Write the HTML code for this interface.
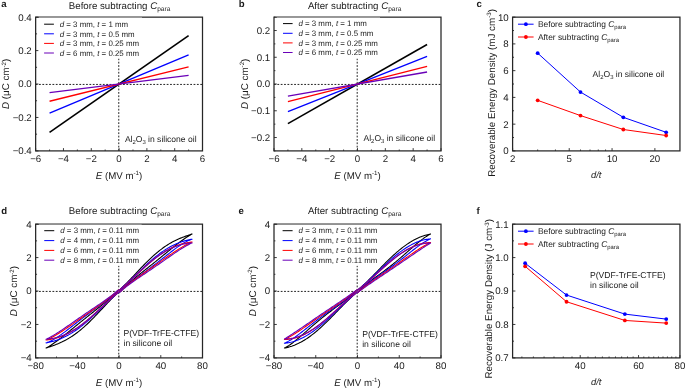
<!DOCTYPE html><html><head><meta charset="utf-8"><style>html,body{margin:0;padding:0;background:#fff;overflow:hidden}svg{display:block}</style></head><body><svg width="685" height="388" viewBox="0 0 685 388" font-family='"Liberation Sans", sans-serif' fill="#1a1a1a" text-rendering="geometricPrecision" style="will-change:transform">
<rect width="685" height="388" fill="#fff"/>
<path d="M35.65 84.43H202.5M118.77 150.9V17.15" stroke="#222" stroke-width="1" stroke-dasharray="1.8 1.56" fill="none"/>
<polyline points="49.55,132.34 188.6,35.71" fill="none" stroke="#000000" stroke-width="1.6" stroke-linejoin="round"/>
<polyline points="49.55,113.12 188.6,54.93" fill="none" stroke="#0000ff" stroke-width="1.3" stroke-linejoin="round"/>
<polyline points="49.55,101.25 188.6,66.8" fill="none" stroke="#ff0000" stroke-width="1.3" stroke-linejoin="round"/>
<polyline points="49.55,92.72 188.6,75.33" fill="none" stroke="#6a00b8" stroke-width="1.3" stroke-linejoin="round"/>
<rect x="35.65" y="17.15" width="166.85" height="133.75" fill="none" stroke="#262626" stroke-width="1.25"/>
<path d="M35.65 150.9v-2.8 M63.46 150.9v-2.8 M91.27 150.9v-2.8 M119.07 150.9v-2.8 M146.88 150.9v-2.8 M174.69 150.9v-2.8 M202.5 150.9v-2.8 M49.55 150.9v-1.4 M77.36 150.9v-1.4 M105.17 150.9v-1.4 M132.98 150.9v-1.4 M160.79 150.9v-1.4 M188.6 150.9v-1.4 M35.65 150.9h2.8 M35.65 117.46h2.8 M35.65 84.03h2.8 M35.65 50.59h2.8 M35.65 17.15h2.8 M35.65 134.18h1.4 M35.65 100.74h1.4 M35.65 67.31h1.4 M35.65 33.87h1.4" stroke="#262626" stroke-width="0.9" fill="none"/>
<text x="35.65" y="161.9" text-anchor="middle" font-size="9.7">−6</text>
<text x="63.46" y="161.9" text-anchor="middle" font-size="9.7">−4</text>
<text x="91.27" y="161.9" text-anchor="middle" font-size="9.7">−2</text>
<text x="119.07" y="161.9" text-anchor="middle" font-size="9.7">0</text>
<text x="146.88" y="161.9" text-anchor="middle" font-size="9.7">2</text>
<text x="174.69" y="161.9" text-anchor="middle" font-size="9.7">4</text>
<text x="202.5" y="161.9" text-anchor="middle" font-size="9.7">6</text>
<text x="31.75" y="154.25" text-anchor="end" font-size="9.7">−0.4</text>
<text x="31.75" y="120.81" text-anchor="end" font-size="9.7">−0.2</text>
<text x="31.75" y="87.38" text-anchor="end" font-size="9.7">0.0</text>
<text x="31.75" y="53.94" text-anchor="end" font-size="9.7">0.2</text>
<text x="31.75" y="20.5" text-anchor="end" font-size="9.7">0.4</text>
<text x="119.08" y="178.9" text-anchor="middle" font-size="9.7"><tspan font-style="italic">E</tspan> (MV m<tspan font-size="6.2" dy="-3.6">-1</tspan><tspan dy="3.6">)</tspan></text>
<text x="68.8" y="8.7" font-size="9.7">Before subtracting <tspan font-style="italic">C</tspan><tspan font-size="6.6" dy="2.2">para</tspan></text>
<text x="1.2" y="7" font-size="9.6" font-weight="bold">a</text>
<path d="M274 84.43H441M357.2 150.9V17.15" stroke="#222" stroke-width="1" stroke-dasharray="1.8 1.56" fill="none"/>
<polyline points="287.92,123.62 427.08,44.44" fill="none" stroke="#000000" stroke-width="1.6" stroke-linejoin="round"/>
<polyline points="287.92,111.58 427.08,56.47" fill="none" stroke="#0000ff" stroke-width="1.3" stroke-linejoin="round"/>
<polyline points="287.92,101.68 427.08,66.37" fill="none" stroke="#ff0000" stroke-width="1.3" stroke-linejoin="round"/>
<polyline points="287.92,96.06 427.08,71.99" fill="none" stroke="#6a00b8" stroke-width="1.3" stroke-linejoin="round"/>
<rect x="274" y="17.15" width="167" height="133.75" fill="none" stroke="#262626" stroke-width="1.25"/>
<path d="M274 150.9v-2.8 M301.83 150.9v-2.8 M329.67 150.9v-2.8 M357.5 150.9v-2.8 M385.33 150.9v-2.8 M413.17 150.9v-2.8 M441 150.9v-2.8 M287.92 150.9v-1.4 M315.75 150.9v-1.4 M343.58 150.9v-1.4 M371.42 150.9v-1.4 M399.25 150.9v-1.4 M427.08 150.9v-1.4 M274 137.53h2.8 M274 110.78h2.8 M274 84.03h2.8 M274 57.27h2.8 M274 30.53h2.8 M274 150.9h1.4 M274 124.15h1.4 M274 97.4h1.4 M274 70.65h1.4 M274 43.9h1.4 M274 17.15h1.4" stroke="#262626" stroke-width="0.9" fill="none"/>
<text x="274" y="161.9" text-anchor="middle" font-size="9.7">−6</text>
<text x="301.83" y="161.9" text-anchor="middle" font-size="9.7">−4</text>
<text x="329.67" y="161.9" text-anchor="middle" font-size="9.7">−2</text>
<text x="357.5" y="161.9" text-anchor="middle" font-size="9.7">0</text>
<text x="385.33" y="161.9" text-anchor="middle" font-size="9.7">2</text>
<text x="413.17" y="161.9" text-anchor="middle" font-size="9.7">4</text>
<text x="441" y="161.9" text-anchor="middle" font-size="9.7">6</text>
<text x="270.1" y="140.88" text-anchor="end" font-size="9.7">−0.2</text>
<text x="270.1" y="114.12" text-anchor="end" font-size="9.7">−0.1</text>
<text x="270.1" y="87.38" text-anchor="end" font-size="9.7">0.0</text>
<text x="270.1" y="60.62" text-anchor="end" font-size="9.7">0.1</text>
<text x="270.1" y="33.88" text-anchor="end" font-size="9.7">0.2</text>
<text x="357.5" y="178.9" text-anchor="middle" font-size="9.7"><tspan font-style="italic">E</tspan> (MV m<tspan font-size="6.2" dy="-3.6">-1</tspan><tspan dy="3.6">)</tspan></text>
<text x="307.9" y="8.7" font-size="9.7">After subtracting <tspan font-style="italic">C</tspan><tspan font-size="6.6" dy="2.2">para</tspan></text>
<text x="238.8" y="7" font-size="9.6" font-weight="bold">b</text>
<polyline points="537.66,53.13 580.49,92.05 623.33,117.33 666.16,132.31" fill="none" stroke="#0000ff" stroke-width="1.0" stroke-linejoin="round"/>
<circle cx="537.66" cy="53.13" r="1.9" fill="#0000ff"/>
<circle cx="580.49" cy="92.05" r="1.9" fill="#0000ff"/>
<circle cx="623.33" cy="117.33" r="1.9" fill="#0000ff"/>
<circle cx="666.16" cy="132.31" r="1.9" fill="#0000ff"/>
<polyline points="537.66,100.34 580.49,115.59 623.33,129.5 666.16,135.52" fill="none" stroke="#ff0000" stroke-width="1.0" stroke-linejoin="round"/>
<circle cx="537.66" cy="100.34" r="1.9" fill="#ff0000"/>
<circle cx="580.49" cy="115.59" r="1.9" fill="#ff0000"/>
<circle cx="623.33" cy="129.5" r="1.9" fill="#ff0000"/>
<circle cx="666.16" cy="135.52" r="1.9" fill="#ff0000"/>
<rect x="512.6" y="17.15" width="167.35" height="133.75" fill="none" stroke="#262626" stroke-width="1.25"/>
<path d="M512.6 150.9v-2.8 M569.22 150.9v-2.8 M612.06 150.9v-2.8 M654.89 150.9v-2.8 M537.66 150.9v-1.4 M555.43 150.9v-1.4 M580.49 150.9v-1.4 M590.02 150.9v-1.4 M598.27 150.9v-1.4 M605.55 150.9v-1.4 M512.6 150.9h2.8 M512.6 124.15h2.8 M512.6 97.4h2.8 M512.6 70.65h2.8 M512.6 43.9h2.8 M512.6 17.15h2.8 M512.6 137.53h1.4 M512.6 110.78h1.4 M512.6 84.03h1.4 M512.6 57.28h1.4 M512.6 30.53h1.4" stroke="#262626" stroke-width="0.9" fill="none"/>
<text x="512.6" y="161.9" text-anchor="middle" font-size="9.7">2</text>
<text x="569.22" y="161.9" text-anchor="middle" font-size="9.7">5</text>
<text x="612.06" y="161.9" text-anchor="middle" font-size="9.7">10</text>
<text x="654.89" y="161.9" text-anchor="middle" font-size="9.7">20</text>
<text x="508.7" y="154.25" text-anchor="end" font-size="9.7">0</text>
<text x="508.7" y="127.5" text-anchor="end" font-size="9.7">2</text>
<text x="508.7" y="100.75" text-anchor="end" font-size="9.7">4</text>
<text x="508.7" y="74" text-anchor="end" font-size="9.7">6</text>
<text x="508.7" y="47.25" text-anchor="end" font-size="9.7">8</text>
<text x="508.7" y="20.5" text-anchor="end" font-size="9.7">10</text>
<text x="596.28" y="178" text-anchor="middle" font-size="9.4" font-style="italic">d/t</text>
<text transform="translate(495 176.8) rotate(-90)" font-size="9.8">Recoverable Energy Density (mJ cm<tspan font-size="6.2" dy="-3.6">-3</tspan><tspan dy="3.6">)</tspan></text>
<text x="476.6" y="7.05" font-size="9.6" font-weight="bold">c</text>
<path d="M518 24.2H533.6" stroke="#0000ff" stroke-width="1"/>
<circle cx="525.9" cy="24.2" r="1.9" fill="#0000ff"/>
<text x="537.9" y="27.2" font-size="8.4">Before subtracting <tspan font-style="italic">C</tspan><tspan font-size="5.9" dy="2">para</tspan></text>
<path d="M518 37H533.6" stroke="#ff0000" stroke-width="1"/>
<circle cx="525.9" cy="37" r="1.9" fill="#ff0000"/>
<text x="537.9" y="40" font-size="8.4">After subtracting <tspan font-style="italic">C</tspan><tspan font-size="5.9" dy="2">para</tspan></text>
<text x="592.6" y="76.8" font-size="8.55">Al<tspan font-size="5.9" dy="2">2</tspan><tspan dy="-2">O</tspan><tspan font-size="5.9" dy="2">3</tspan><tspan dy="-2"> in silicone oil</tspan></text>
<polyline points="525.12,263.27 566.51,295.04 624.85,314.1 666.24,319.11" fill="none" stroke="#0000ff" stroke-width="1.0" stroke-linejoin="round"/>
<circle cx="525.12" cy="263.27" r="1.9" fill="#0000ff"/>
<circle cx="566.51" cy="295.04" r="1.9" fill="#0000ff"/>
<circle cx="624.85" cy="314.1" r="1.9" fill="#0000ff"/>
<circle cx="666.24" cy="319.11" r="1.9" fill="#0000ff"/>
<polyline points="525.12,266.28 566.51,301.73 624.85,320.45 666.24,323.12" fill="none" stroke="#ff0000" stroke-width="1.0" stroke-linejoin="round"/>
<circle cx="525.12" cy="266.28" r="1.9" fill="#ff0000"/>
<circle cx="566.51" cy="301.73" r="1.9" fill="#ff0000"/>
<circle cx="624.85" cy="320.45" r="1.9" fill="#ff0000"/>
<circle cx="666.24" cy="323.12" r="1.9" fill="#ff0000"/>
<rect x="512.6" y="224.15" width="167.35" height="133.75" fill="none" stroke="#262626" stroke-width="1.25"/>
<path d="M580.22 357.9v-2.8 M638.56 357.9v-2.8 M679.95 357.9v-2.8 M521.89 357.9v-1.4 M533.4 357.9v-1.4 M544.06 357.9v-1.4 M553.99 357.9v-1.4 M563.28 357.9v-1.4 M572 357.9v-1.4 M588 357.9v-1.4 M595.38 357.9v-1.4 M602.4 357.9v-1.4 M609.09 357.9v-1.4 M615.49 357.9v-1.4 M621.61 357.9v-1.4 M627.49 357.9v-1.4 M633.13 357.9v-1.4 M643.79 357.9v-1.4 M648.84 357.9v-1.4 M653.72 357.9v-1.4 M658.44 357.9v-1.4 M663 357.9v-1.4 M667.43 357.9v-1.4 M671.73 357.9v-1.4 M675.9 357.9v-1.4 M512.6 357.9h2.8 M512.6 324.46h2.8 M512.6 291.02h2.8 M512.6 257.59h2.8 M512.6 224.15h2.8 M512.6 341.18h1.4 M512.6 307.74h1.4 M512.6 274.31h1.4 M512.6 240.87h1.4" stroke="#262626" stroke-width="0.9" fill="none"/>
<text x="580.22" y="368.9" text-anchor="middle" font-size="9.7">40</text>
<text x="638.56" y="368.9" text-anchor="middle" font-size="9.7">60</text>
<text x="679.95" y="368.9" text-anchor="middle" font-size="9.7">80</text>
<text x="508.7" y="361.25" text-anchor="end" font-size="9.7">0.7</text>
<text x="508.7" y="327.81" text-anchor="end" font-size="9.7">0.8</text>
<text x="508.7" y="294.38" text-anchor="end" font-size="9.7">0.9</text>
<text x="508.7" y="260.94" text-anchor="end" font-size="9.7">1.0</text>
<text x="508.7" y="227.5" text-anchor="end" font-size="9.7">1.1</text>
<text x="596.28" y="385" text-anchor="middle" font-size="9.4" font-style="italic">d/t</text>
<text transform="translate(492.2 378.6) rotate(-90)" font-size="9.8">Recoverable Energy Density (J cm<tspan font-size="6.2" dy="-3.6">-3</tspan><tspan dy="3.6">)</tspan></text>
<text x="476.6" y="214.05" font-size="9.6" font-weight="bold">f</text>
<path d="M518 231.2H533.6" stroke="#0000ff" stroke-width="1"/>
<circle cx="525.9" cy="231.2" r="1.9" fill="#0000ff"/>
<text x="537.9" y="234.2" font-size="8.4">Before subtracting <tspan font-style="italic">C</tspan><tspan font-size="5.9" dy="2">para</tspan></text>
<path d="M518 244H533.6" stroke="#ff0000" stroke-width="1"/>
<circle cx="525.9" cy="244" r="1.9" fill="#ff0000"/>
<text x="537.9" y="247" font-size="8.4">After subtracting <tspan font-style="italic">C</tspan><tspan font-size="5.9" dy="2">para</tspan></text>
<text x="590.0" y="277.9" font-size="8.6">P(VDF-TrFE-CTFE)</text>
<text x="590.0" y="288.0" font-size="8.6">in silicone oil</text>
<text x="124.9" y="142.1" font-size="8.55">Al<tspan font-size="5.9" dy="2">2</tspan><tspan dy="-2">O</tspan><tspan font-size="5.9" dy="2">3</tspan><tspan dy="-2"> in silicone oil</tspan></text>
<text x="363.5" y="141.0" font-size="8.55">Al<tspan font-size="5.9" dy="2">2</tspan><tspan dy="-2">O</tspan><tspan font-size="5.9" dy="2">3</tspan><tspan dy="-2"> in silicone oil</tspan></text>
<rect x="38.8" y="17.6" width="103.2" height="41" fill="#fff"/>
<path d="M44.1 24.2H53.9" stroke="#000000" stroke-width="1.0"/>
<text x="59.7" y="26.95" font-size="7.9"><tspan font-style="italic">d</tspan> = 3 mm, <tspan font-style="italic">t</tspan> = 1 mm</text>
<path d="M44.1 33.8H53.9" stroke="#0000ff" stroke-width="1.0"/>
<text x="59.7" y="36.55" font-size="7.9"><tspan font-style="italic">d</tspan> = 3 mm, <tspan font-style="italic">t</tspan> = 0.5 mm</text>
<path d="M44.1 43.4H53.9" stroke="#ff0000" stroke-width="1.0"/>
<text x="59.7" y="46.15" font-size="7.9"><tspan font-style="italic">d</tspan> = 3 mm, <tspan font-style="italic">t</tspan> = 0.25 mm</text>
<path d="M44.1 53H53.9" stroke="#6a00b8" stroke-width="1.0"/>
<text x="59.7" y="55.75" font-size="7.9"><tspan font-style="italic">d</tspan> = 6 mm, <tspan font-style="italic">t</tspan> = 0.25 mm</text>
<rect x="276.9" y="17.6" width="103.1" height="41" fill="#fff"/>
<path d="M283 23.6H292.6" stroke="#000000" stroke-width="1.0"/>
<text x="298.4" y="26.35" font-size="7.9"><tspan font-style="italic">d</tspan> = 3 mm, <tspan font-style="italic">t</tspan> = 1 mm</text>
<path d="M283 33.3H292.6" stroke="#0000ff" stroke-width="1.0"/>
<text x="298.4" y="36.05" font-size="7.9"><tspan font-style="italic">d</tspan> = 3 mm, <tspan font-style="italic">t</tspan> = 0.5 mm</text>
<path d="M283 42.9H292.6" stroke="#ff0000" stroke-width="1.0"/>
<text x="298.4" y="45.65" font-size="7.9"><tspan font-style="italic">d</tspan> = 3 mm, <tspan font-style="italic">t</tspan> = 0.25 mm</text>
<path d="M283 52.5H292.6" stroke="#6a00b8" stroke-width="1.0"/>
<text x="298.4" y="55.25" font-size="7.9"><tspan font-style="italic">d</tspan> = 6 mm, <tspan font-style="italic">t</tspan> = 0.25 mm</text>
<text transform="translate(9.1 83.9) rotate(-90)" text-anchor="middle" font-size="9.8"><tspan font-style="italic">D</tspan> (μC cm<tspan font-size="6.2" dy="-3.6">-2</tspan><tspan dy="3.6">)</tspan></text>
<text transform="translate(247.6 83.8) rotate(-90)" text-anchor="middle" font-size="9.8"><tspan font-style="italic">D</tspan> (μC cm<tspan font-size="6.2" dy="-3.6">-2</tspan><tspan dy="3.6">)</tspan></text>
<path d="M35.65 291.42H202.5M118.77 357.9V224.15" stroke="#222" stroke-width="1" stroke-dasharray="1.8 1.56" fill="none"/>
<path d="M119.07 292.70 L120.12 291.59 L121.16 290.51 L122.20 289.46 L123.25 288.43 L124.29 287.42 L125.33 286.43 L126.37 285.46 L127.42 284.51 L128.46 283.58 L129.50 282.66 L130.55 281.75 L131.59 280.85 L132.63 279.97 L133.67 279.09 L134.72 278.23 L135.76 277.37 L136.80 276.52 L137.85 275.67 L138.89 274.83 L139.93 274.00 L140.97 273.16 L142.02 272.33 L143.06 271.51 L144.10 270.68 L145.15 269.85 L146.19 269.03 L147.23 268.21 L148.27 267.38 L149.32 266.55 L150.36 265.73 L151.40 264.90 L152.44 264.07 L153.49 263.23 L154.53 262.40 L155.57 261.56 L156.62 260.72 L157.66 259.88 L158.70 259.04 L159.74 258.20 L160.79 257.35 L161.83 256.50 L162.87 255.65 L163.92 254.80 L164.96 253.95 L166.00 253.10 L167.04 252.25 L168.09 251.40 L169.13 250.55 L170.17 249.70 L171.22 248.86 L172.26 248.02 L173.30 247.18 L174.34 246.35 L175.39 245.53 L176.43 244.71 L177.47 243.90 L178.52 243.10 L179.56 242.30 L180.60 241.52 L181.64 240.75 L182.69 240.00 L183.73 239.26 L184.77 238.53 L185.81 237.82 L186.86 237.13 L187.90 236.46 L188.94 235.81 L189.99 235.19 L191.03 234.59 L192.07 234.01 L191.03 234.35 L189.99 234.70 L188.94 235.05 L187.90 235.40 L186.86 235.76 L185.81 236.13 L184.77 236.50 L183.73 236.89 L182.69 237.29 L181.64 237.70 L180.60 238.13 L179.56 238.56 L178.52 239.02 L177.47 239.49 L176.43 239.97 L175.39 240.48 L174.34 241.00 L173.30 241.54 L172.26 242.10 L171.22 242.68 L170.17 243.28 L169.13 243.90 L168.09 244.54 L167.04 245.20 L166.00 245.88 L164.96 246.58 L163.92 247.31 L162.87 248.05 L161.83 248.82 L160.79 249.60 L159.74 250.41 L158.70 251.24 L157.66 252.09 L156.62 252.96 L155.57 253.85 L154.53 254.75 L153.49 255.68 L152.44 256.62 L151.40 257.58 L150.36 258.56 L149.32 259.56 L148.27 260.57 L147.23 261.59 L146.19 262.63 L145.15 263.68 L144.10 264.75 L143.06 265.82 L142.02 266.90 L140.97 267.99 L139.93 269.09 L138.89 270.20 L137.85 271.31 L136.80 272.42 L135.76 273.53 L134.72 274.65 L133.67 275.76 L132.63 276.87 L131.59 277.97 L130.55 279.07 L129.50 280.16 L128.46 281.24 L127.42 282.31 L126.37 283.37 L125.33 284.41 L124.29 285.43 L123.25 286.43 L122.20 287.41 L121.16 288.36 L120.12 289.29 L119.07 290.19 L118.03 290.46 L116.99 291.54 L115.95 292.59 L114.90 293.62 L113.86 294.63 L112.82 295.62 L111.78 296.59 L110.73 297.54 L109.69 298.47 L108.65 299.39 L107.60 300.30 L106.56 301.20 L105.52 302.08 L104.48 302.96 L103.43 303.82 L102.39 304.68 L101.35 305.53 L100.30 306.38 L99.26 307.22 L98.22 308.05 L97.18 308.89 L96.13 309.72 L95.09 310.54 L94.05 311.37 L93.00 312.20 L91.96 313.02 L90.92 313.84 L89.88 314.67 L88.83 315.50 L87.79 316.32 L86.75 317.15 L85.70 317.98 L84.66 318.82 L83.62 319.65 L82.58 320.49 L81.53 321.33 L80.49 322.17 L79.45 323.01 L78.41 323.85 L77.36 324.70 L76.32 325.55 L75.28 326.40 L74.23 327.25 L73.19 328.10 L72.15 328.95 L71.11 329.80 L70.06 330.65 L69.02 331.50 L67.98 332.35 L66.93 333.19 L65.89 334.03 L64.85 334.87 L63.81 335.70 L62.76 336.52 L61.72 337.34 L60.68 338.15 L59.63 338.95 L58.59 339.75 L57.55 340.53 L56.51 341.30 L55.46 342.05 L54.42 342.79 L53.38 343.52 L52.33 344.23 L51.29 344.92 L50.25 345.59 L49.21 346.24 L48.16 346.86 L47.12 347.46 L46.08 348.04 L47.12 347.70 L48.16 347.35 L49.21 347.00 L50.25 346.65 L51.29 346.29 L52.33 345.92 L53.38 345.55 L54.42 345.16 L55.46 344.76 L56.51 344.35 L57.55 343.92 L58.59 343.49 L59.63 343.03 L60.68 342.56 L61.72 342.08 L62.76 341.57 L63.81 341.05 L64.85 340.51 L65.89 339.95 L66.93 339.37 L67.98 338.77 L69.02 338.15 L70.06 337.51 L71.11 336.85 L72.15 336.17 L73.19 335.47 L74.23 334.74 L75.28 334.00 L76.32 333.23 L77.36 332.45 L78.41 331.64 L79.45 330.81 L80.49 329.96 L81.53 329.09 L82.58 328.20 L83.62 327.30 L84.66 326.37 L85.70 325.43 L86.75 324.47 L87.79 323.49 L88.83 322.49 L89.88 321.48 L90.92 320.46 L91.96 319.42 L93.00 318.37 L94.05 317.30 L95.09 316.23 L96.13 315.15 L97.18 314.06 L98.22 312.96 L99.26 311.85 L100.30 310.74 L101.35 309.63 L102.39 308.52 L103.43 307.40 L104.48 306.29 L105.52 305.18 L106.56 304.08 L107.60 302.98 L108.65 301.89 L109.69 300.81 L110.73 299.74 L111.78 298.68 L112.82 297.64 L113.86 296.62 L114.90 295.62 L115.95 294.64 L116.99 293.69 L118.03 292.76 L119.07 291.86" fill="none" stroke="#000000" stroke-width="1.1" stroke-linejoin="round"/>
<path d="M119.07 292.70 L120.12 291.63 L121.16 290.59 L122.20 289.59 L123.25 288.61 L124.29 287.66 L125.33 286.74 L126.37 285.84 L127.42 284.96 L128.46 284.10 L129.50 283.26 L130.55 282.43 L131.59 281.62 L132.63 280.81 L133.67 280.02 L134.72 279.24 L135.76 278.47 L136.80 277.70 L137.85 276.94 L138.89 276.18 L139.93 275.42 L140.97 274.67 L142.02 273.92 L143.06 273.16 L144.10 272.41 L145.15 271.66 L146.19 270.90 L147.23 270.14 L148.27 269.38 L149.32 268.61 L150.36 267.84 L151.40 267.07 L152.44 266.29 L153.49 265.51 L154.53 264.72 L155.57 263.93 L156.62 263.13 L157.66 262.33 L158.70 261.53 L159.74 260.72 L160.79 259.91 L161.83 259.10 L162.87 258.29 L163.92 257.47 L164.96 256.65 L166.00 255.84 L167.04 255.02 L168.09 254.20 L169.13 253.39 L170.17 252.58 L171.22 251.78 L172.26 250.98 L173.30 250.20 L174.34 249.41 L175.39 248.64 L176.43 247.89 L177.47 247.14 L178.52 246.41 L179.56 245.70 L180.60 245.00 L181.64 244.33 L182.69 243.68 L183.73 243.05 L184.77 242.45 L185.81 241.88 L186.86 241.34 L187.90 240.84 L188.94 240.37 L189.99 239.94 L191.03 239.54 L192.07 239.20 L191.03 239.38 L189.99 239.58 L188.94 239.79 L187.90 240.03 L186.86 240.27 L185.81 240.54 L184.77 240.82 L183.73 241.13 L182.69 241.45 L181.64 241.79 L180.60 242.15 L179.56 242.53 L178.52 242.92 L177.47 243.34 L176.43 243.78 L175.39 244.24 L174.34 244.72 L173.30 245.22 L172.26 245.74 L171.22 246.28 L170.17 246.85 L169.13 247.43 L168.09 248.03 L167.04 248.65 L166.00 249.30 L164.96 249.96 L163.92 250.64 L162.87 251.35 L161.83 252.07 L160.79 252.81 L159.74 253.57 L158.70 254.34 L157.66 255.14 L156.62 255.95 L155.57 256.78 L154.53 257.63 L153.49 258.49 L152.44 259.36 L151.40 260.25 L150.36 261.16 L149.32 262.08 L148.27 263.01 L147.23 263.95 L146.19 264.90 L145.15 265.86 L144.10 266.84 L143.06 267.82 L142.02 268.80 L140.97 269.80 L139.93 270.80 L138.89 271.80 L137.85 272.81 L136.80 273.82 L135.76 274.84 L134.72 275.85 L133.67 276.86 L132.63 277.87 L131.59 278.88 L130.55 279.88 L129.50 280.87 L128.46 281.86 L127.42 282.84 L126.37 283.81 L125.33 284.77 L124.29 285.71 L123.25 286.64 L122.20 287.56 L121.16 288.45 L120.12 289.33 L119.07 290.19 L118.03 290.42 L116.99 291.46 L115.95 292.46 L114.90 293.44 L113.86 294.39 L112.82 295.31 L111.78 296.21 L110.73 297.09 L109.69 297.95 L108.65 298.79 L107.60 299.62 L106.56 300.43 L105.52 301.24 L104.48 302.03 L103.43 302.81 L102.39 303.58 L101.35 304.35 L100.30 305.11 L99.26 305.87 L98.22 306.63 L97.18 307.38 L96.13 308.13 L95.09 308.89 L94.05 309.64 L93.00 310.39 L91.96 311.15 L90.92 311.91 L89.88 312.67 L88.83 313.44 L87.79 314.21 L86.75 314.98 L85.70 315.76 L84.66 316.54 L83.62 317.33 L82.58 318.12 L81.53 318.92 L80.49 319.72 L79.45 320.52 L78.41 321.33 L77.36 322.14 L76.32 322.95 L75.28 323.76 L74.23 324.58 L73.19 325.40 L72.15 326.21 L71.11 327.03 L70.06 327.85 L69.02 328.66 L67.98 329.47 L66.93 330.27 L65.89 331.07 L64.85 331.85 L63.81 332.64 L62.76 333.41 L61.72 334.16 L60.68 334.91 L59.63 335.64 L58.59 336.35 L57.55 337.05 L56.51 337.72 L55.46 338.37 L54.42 339.00 L53.38 339.60 L52.33 340.17 L51.29 340.71 L50.25 341.21 L49.21 341.68 L48.16 342.11 L47.12 342.51 L46.08 342.85 L47.12 342.67 L48.16 342.47 L49.21 342.26 L50.25 342.02 L51.29 341.78 L52.33 341.51 L53.38 341.23 L54.42 340.92 L55.46 340.60 L56.51 340.26 L57.55 339.90 L58.59 339.52 L59.63 339.13 L60.68 338.71 L61.72 338.27 L62.76 337.81 L63.81 337.33 L64.85 336.83 L65.89 336.31 L66.93 335.77 L67.98 335.20 L69.02 334.62 L70.06 334.02 L71.11 333.40 L72.15 332.75 L73.19 332.09 L74.23 331.41 L75.28 330.70 L76.32 329.98 L77.36 329.24 L78.41 328.48 L79.45 327.71 L80.49 326.91 L81.53 326.10 L82.58 325.27 L83.62 324.42 L84.66 323.56 L85.70 322.69 L86.75 321.80 L87.79 320.89 L88.83 319.97 L89.88 319.04 L90.92 318.10 L91.96 317.15 L93.00 316.19 L94.05 315.21 L95.09 314.23 L96.13 313.25 L97.18 312.25 L98.22 311.25 L99.26 310.25 L100.30 309.24 L101.35 308.23 L102.39 307.21 L103.43 306.20 L104.48 305.19 L105.52 304.18 L106.56 303.17 L107.60 302.17 L108.65 301.18 L109.69 300.19 L110.73 299.21 L111.78 298.24 L112.82 297.28 L113.86 296.34 L114.90 295.41 L115.95 294.49 L116.99 293.60 L118.03 292.72 L119.07 291.86" fill="none" stroke="#0000ff" stroke-width="1.1" stroke-linejoin="round"/>
<path d="M119.07 292.70 L120.12 291.70 L121.16 290.73 L122.20 289.79 L123.25 288.86 L124.29 287.95 L125.33 287.07 L126.37 286.20 L127.42 285.34 L128.46 284.50 L129.50 283.68 L130.55 282.87 L131.59 282.06 L132.63 281.27 L133.67 280.49 L134.72 279.72 L135.76 278.96 L136.80 278.20 L137.85 277.45 L138.89 276.70 L139.93 275.96 L140.97 275.22 L142.02 274.48 L143.06 273.75 L144.10 273.02 L145.15 272.29 L146.19 271.57 L147.23 270.84 L148.27 270.11 L149.32 269.39 L150.36 268.66 L151.40 267.94 L152.44 267.21 L153.49 266.48 L154.53 265.75 L155.57 265.02 L156.62 264.29 L157.66 263.56 L158.70 262.83 L159.74 262.10 L160.79 261.37 L161.83 260.64 L162.87 259.91 L163.92 259.17 L164.96 258.44 L166.00 257.72 L167.04 256.99 L168.09 256.26 L169.13 255.54 L170.17 254.82 L171.22 254.11 L172.26 253.40 L173.30 252.69 L174.34 251.99 L175.39 251.30 L176.43 250.62 L177.47 249.95 L178.52 249.28 L179.56 248.63 L180.60 247.98 L181.64 247.36 L182.69 246.74 L183.73 246.14 L184.77 245.56 L185.81 244.99 L186.86 244.44 L187.90 243.91 L188.94 243.41 L189.99 242.93 L191.03 242.47 L192.07 242.04 L191.03 242.16 L189.99 242.31 L188.94 242.46 L187.90 242.64 L186.86 242.83 L185.81 243.04 L184.77 243.27 L183.73 243.51 L182.69 243.78 L181.64 244.06 L180.60 244.37 L179.56 244.69 L178.52 245.04 L177.47 245.41 L176.43 245.79 L175.39 246.20 L174.34 246.63 L173.30 247.08 L172.26 247.56 L171.22 248.05 L170.17 248.57 L169.13 249.10 L168.09 249.66 L167.04 250.24 L166.00 250.84 L164.96 251.46 L163.92 252.10 L162.87 252.77 L161.83 253.45 L160.79 254.15 L159.74 254.87 L158.70 255.61 L157.66 256.37 L156.62 257.15 L155.57 257.94 L154.53 258.75 L153.49 259.58 L152.44 260.43 L151.40 261.28 L150.36 262.16 L149.32 263.04 L148.27 263.94 L147.23 264.86 L146.19 265.78 L145.15 266.71 L144.10 267.66 L143.06 268.61 L142.02 269.57 L140.97 270.53 L139.93 271.50 L138.89 272.48 L137.85 273.46 L136.80 274.44 L135.76 275.42 L134.72 276.41 L133.67 277.39 L132.63 278.37 L131.59 279.34 L130.55 280.31 L129.50 281.27 L128.46 282.23 L127.42 283.17 L126.37 284.11 L125.33 285.03 L124.29 285.93 L123.25 286.82 L122.20 287.69 L121.16 288.55 L120.12 289.38 L119.07 290.19 L118.03 290.35 L116.99 291.32 L115.95 292.26 L114.90 293.19 L113.86 294.10 L112.82 294.98 L111.78 295.85 L110.73 296.71 L109.69 297.55 L108.65 298.37 L107.60 299.18 L106.56 299.99 L105.52 300.78 L104.48 301.56 L103.43 302.33 L102.39 303.09 L101.35 303.85 L100.30 304.60 L99.26 305.35 L98.22 306.09 L97.18 306.83 L96.13 307.57 L95.09 308.30 L94.05 309.03 L93.00 309.76 L91.96 310.48 L90.92 311.21 L89.88 311.94 L88.83 312.66 L87.79 313.39 L86.75 314.11 L85.70 314.84 L84.66 315.57 L83.62 316.30 L82.58 317.03 L81.53 317.76 L80.49 318.49 L79.45 319.22 L78.41 319.95 L77.36 320.68 L76.32 321.41 L75.28 322.14 L74.23 322.88 L73.19 323.61 L72.15 324.33 L71.11 325.06 L70.06 325.79 L69.02 326.51 L67.98 327.23 L66.93 327.94 L65.89 328.65 L64.85 329.36 L63.81 330.06 L62.76 330.75 L61.72 331.43 L60.68 332.10 L59.63 332.77 L58.59 333.42 L57.55 334.07 L56.51 334.69 L55.46 335.31 L54.42 335.91 L53.38 336.49 L52.33 337.06 L51.29 337.61 L50.25 338.14 L49.21 338.64 L48.16 339.12 L47.12 339.58 L46.08 340.01 L47.12 339.89 L48.16 339.74 L49.21 339.59 L50.25 339.41 L51.29 339.22 L52.33 339.01 L53.38 338.78 L54.42 338.54 L55.46 338.27 L56.51 337.99 L57.55 337.68 L58.59 337.36 L59.63 337.01 L60.68 336.64 L61.72 336.26 L62.76 335.85 L63.81 335.42 L64.85 334.97 L65.89 334.49 L66.93 334.00 L67.98 333.48 L69.02 332.95 L70.06 332.39 L71.11 331.81 L72.15 331.21 L73.19 330.59 L74.23 329.95 L75.28 329.28 L76.32 328.60 L77.36 327.90 L78.41 327.18 L79.45 326.44 L80.49 325.68 L81.53 324.90 L82.58 324.11 L83.62 323.30 L84.66 322.47 L85.70 321.62 L86.75 320.77 L87.79 319.89 L88.83 319.01 L89.88 318.11 L90.92 317.19 L91.96 316.27 L93.00 315.34 L94.05 314.39 L95.09 313.44 L96.13 312.48 L97.18 311.52 L98.22 310.55 L99.26 309.57 L100.30 308.59 L101.35 307.61 L102.39 306.63 L103.43 305.64 L104.48 304.66 L105.52 303.68 L106.56 302.71 L107.60 301.74 L108.65 300.78 L109.69 299.82 L110.73 298.88 L111.78 297.94 L112.82 297.02 L113.86 296.12 L114.90 295.23 L115.95 294.36 L116.99 293.50 L118.03 292.67 L119.07 291.86" fill="none" stroke="#ff0000" stroke-width="1.1" stroke-linejoin="round"/>
<path d="M119.07 292.70 L120.12 291.78 L121.16 290.88 L122.20 290.01 L123.25 289.15 L124.29 288.31 L125.33 287.48 L126.37 286.67 L127.42 285.87 L128.46 285.09 L129.50 284.32 L130.55 283.55 L131.59 282.80 L132.63 282.05 L133.67 281.32 L134.72 280.59 L135.76 279.86 L136.80 279.14 L137.85 278.42 L138.89 277.71 L139.93 277.00 L140.97 276.30 L142.02 275.59 L143.06 274.89 L144.10 274.18 L145.15 273.48 L146.19 272.78 L147.23 272.07 L148.27 271.37 L149.32 270.66 L150.36 269.96 L151.40 269.25 L152.44 268.54 L153.49 267.82 L154.53 267.11 L155.57 266.39 L156.62 265.67 L157.66 264.95 L158.70 264.23 L159.74 263.51 L160.79 262.78 L161.83 262.06 L162.87 261.33 L163.92 260.60 L164.96 259.87 L166.00 259.14 L167.04 258.41 L168.09 257.68 L169.13 256.96 L170.17 256.23 L171.22 255.51 L172.26 254.79 L173.30 254.08 L174.34 253.37 L175.39 252.66 L176.43 251.96 L177.47 251.27 L178.52 250.59 L179.56 249.91 L180.60 249.24 L181.64 248.59 L182.69 247.95 L183.73 247.31 L184.77 246.70 L185.81 246.10 L186.86 245.51 L187.90 244.94 L188.94 244.39 L189.99 243.87 L191.03 243.36 L192.07 242.88 L191.03 242.96 L189.99 243.06 L188.94 243.17 L187.90 243.31 L186.86 243.47 L185.81 243.65 L184.77 243.84 L183.73 244.06 L182.69 244.30 L181.64 244.56 L180.60 244.84 L179.56 245.14 L178.52 245.47 L177.47 245.81 L176.43 246.18 L175.39 246.57 L174.34 246.99 L173.30 247.42 L172.26 247.88 L171.22 248.36 L170.17 248.87 L169.13 249.39 L168.09 249.94 L167.04 250.51 L166.00 251.10 L164.96 251.71 L163.92 252.35 L162.87 253.00 L161.83 253.67 L160.79 254.37 L159.74 255.08 L158.70 255.82 L157.66 256.57 L156.62 257.34 L155.57 258.13 L154.53 258.94 L153.49 259.76 L152.44 260.60 L151.40 261.45 L150.36 262.32 L149.32 263.20 L148.27 264.09 L147.23 265.00 L146.19 265.92 L145.15 266.85 L144.10 267.79 L143.06 268.73 L142.02 269.69 L140.97 270.65 L139.93 271.61 L138.89 272.58 L137.85 273.56 L136.80 274.53 L135.76 275.51 L134.72 276.49 L133.67 277.46 L132.63 278.44 L131.59 279.41 L130.55 280.37 L129.50 281.33 L128.46 282.27 L127.42 283.21 L126.37 284.14 L125.33 285.05 L124.29 285.96 L123.25 286.84 L122.20 287.71 L121.16 288.56 L120.12 289.38 L119.07 290.19 L118.03 290.27 L116.99 291.17 L115.95 292.04 L114.90 292.90 L113.86 293.74 L112.82 294.57 L111.78 295.38 L110.73 296.18 L109.69 296.96 L108.65 297.73 L107.60 298.50 L106.56 299.25 L105.52 300.00 L104.48 300.73 L103.43 301.46 L102.39 302.19 L101.35 302.91 L100.30 303.63 L99.26 304.34 L98.22 305.05 L97.18 305.75 L96.13 306.46 L95.09 307.16 L94.05 307.87 L93.00 308.57 L91.96 309.27 L90.92 309.98 L89.88 310.68 L88.83 311.39 L87.79 312.09 L86.75 312.80 L85.70 313.51 L84.66 314.23 L83.62 314.94 L82.58 315.66 L81.53 316.38 L80.49 317.10 L79.45 317.82 L78.41 318.54 L77.36 319.27 L76.32 319.99 L75.28 320.72 L74.23 321.45 L73.19 322.18 L72.15 322.91 L71.11 323.64 L70.06 324.37 L69.02 325.09 L67.98 325.82 L66.93 326.54 L65.89 327.26 L64.85 327.97 L63.81 328.68 L62.76 329.39 L61.72 330.09 L60.68 330.78 L59.63 331.46 L58.59 332.14 L57.55 332.81 L56.51 333.46 L55.46 334.10 L54.42 334.74 L53.38 335.35 L52.33 335.95 L51.29 336.54 L50.25 337.11 L49.21 337.66 L48.16 338.18 L47.12 338.69 L46.08 339.17 L47.12 339.09 L48.16 338.99 L49.21 338.88 L50.25 338.74 L51.29 338.58 L52.33 338.40 L53.38 338.21 L54.42 337.99 L55.46 337.75 L56.51 337.49 L57.55 337.21 L58.59 336.91 L59.63 336.58 L60.68 336.24 L61.72 335.87 L62.76 335.48 L63.81 335.06 L64.85 334.63 L65.89 334.17 L66.93 333.69 L67.98 333.18 L69.02 332.66 L70.06 332.11 L71.11 331.54 L72.15 330.95 L73.19 330.34 L74.23 329.70 L75.28 329.05 L76.32 328.38 L77.36 327.68 L78.41 326.97 L79.45 326.23 L80.49 325.48 L81.53 324.71 L82.58 323.92 L83.62 323.11 L84.66 322.29 L85.70 321.45 L86.75 320.60 L87.79 319.73 L88.83 318.85 L89.88 317.96 L90.92 317.05 L91.96 316.13 L93.00 315.20 L94.05 314.26 L95.09 313.32 L96.13 312.36 L97.18 311.40 L98.22 310.44 L99.26 309.47 L100.30 308.49 L101.35 307.52 L102.39 306.54 L103.43 305.56 L104.48 304.59 L105.52 303.61 L106.56 302.64 L107.60 301.68 L108.65 300.72 L109.69 299.78 L110.73 298.84 L111.78 297.91 L112.82 297.00 L113.86 296.09 L114.90 295.21 L115.95 294.34 L116.99 293.49 L118.03 292.67 L119.07 291.86" fill="none" stroke="#6a00b8" stroke-width="1.1" stroke-linejoin="round"/>
<rect x="35.65" y="224.15" width="166.85" height="133.75" fill="none" stroke="#262626" stroke-width="1.25"/>
<path d="M35.65 357.9v-2.8 M77.36 357.9v-2.8 M119.07 357.9v-2.8 M160.79 357.9v-2.8 M202.5 357.9v-2.8 M56.51 357.9v-1.4 M98.22 357.9v-1.4 M139.93 357.9v-1.4 M181.64 357.9v-1.4 M35.65 357.9h2.8 M35.65 324.46h2.8 M35.65 291.02h2.8 M35.65 257.59h2.8 M35.65 224.15h2.8 M35.65 341.18h1.4 M35.65 307.74h1.4 M35.65 274.31h1.4 M35.65 240.87h1.4" stroke="#262626" stroke-width="0.9" fill="none"/>
<text x="35.65" y="368.9" text-anchor="middle" font-size="9.7">−80</text>
<text x="77.36" y="368.9" text-anchor="middle" font-size="9.7">−40</text>
<text x="119.07" y="368.9" text-anchor="middle" font-size="9.7">0</text>
<text x="160.79" y="368.9" text-anchor="middle" font-size="9.7">40</text>
<text x="202.5" y="368.9" text-anchor="middle" font-size="9.7">80</text>
<text x="31.75" y="361.25" text-anchor="end" font-size="9.7">−4</text>
<text x="31.75" y="327.81" text-anchor="end" font-size="9.7">−2</text>
<text x="31.75" y="294.38" text-anchor="end" font-size="9.7">0</text>
<text x="31.75" y="260.94" text-anchor="end" font-size="9.7">2</text>
<text x="31.75" y="227.5" text-anchor="end" font-size="9.7">4</text>
<text x="119.08" y="385.9" text-anchor="middle" font-size="9.7"><tspan font-style="italic">E</tspan> (MV m<tspan font-size="6.2" dy="-3.6">-1</tspan><tspan dy="3.6">)</tspan></text>
<text x="68.8" y="213.7" font-size="9.7">Before subtracting <tspan font-style="italic">C</tspan><tspan font-size="6.6" dy="2.2">para</tspan></text>
<text x="1.2" y="213.8" font-size="9.6" font-weight="bold">d</text>
<rect x="38.95" y="224.65" width="102.7" height="41.15" fill="#fff"/>
<path d="M44.25 230.7H54.25" stroke="#000000" stroke-width="1.0"/>
<text x="60.25" y="233.45" font-size="7.9"><tspan font-style="italic">d</tspan> = 3 mm, <tspan font-style="italic">t</tspan> = 0.11 mm</text>
<path d="M44.25 240.6H54.25" stroke="#0000ff" stroke-width="1.0"/>
<text x="60.25" y="243.35" font-size="7.9"><tspan font-style="italic">d</tspan> = 4 mm, <tspan font-style="italic">t</tspan> = 0.11 mm</text>
<path d="M44.25 250.4H54.25" stroke="#ff0000" stroke-width="1.0"/>
<text x="60.25" y="253.15" font-size="7.9"><tspan font-style="italic">d</tspan> = 6 mm, <tspan font-style="italic">t</tspan> = 0.11 mm</text>
<path d="M44.25 260.2H54.25" stroke="#6a00b8" stroke-width="1.0"/>
<text x="60.25" y="262.95" font-size="7.9"><tspan font-style="italic">d</tspan> = 8 mm, <tspan font-style="italic">t</tspan> = 0.11 mm</text>
<text x="123.5" y="336" font-size="8.6">P(VDF-TrFE-CTFE)</text>
<text x="123.5" y="345.7" font-size="8.6">in silicone oil</text>
<path d="M274 291.42H441M357.2 357.9V224.15" stroke="#222" stroke-width="1" stroke-dasharray="1.8 1.56" fill="none"/>
<path d="M357.50 292.70 L358.54 291.59 L359.59 290.52 L360.63 289.49 L361.68 288.49 L362.72 287.52 L363.76 286.58 L364.81 285.67 L365.85 284.78 L366.89 283.91 L367.94 283.06 L368.98 282.22 L370.02 281.41 L371.07 280.60 L372.11 279.80 L373.16 279.02 L374.20 278.24 L375.24 277.47 L376.29 276.70 L377.33 275.94 L378.38 275.17 L379.42 274.41 L380.46 273.65 L381.51 272.88 L382.55 272.12 L383.59 271.35 L384.64 270.57 L385.68 269.79 L386.73 269.00 L387.77 268.21 L388.81 267.41 L389.86 266.60 L390.90 265.78 L391.94 264.96 L392.99 264.12 L394.03 263.28 L395.07 262.43 L396.12 261.57 L397.16 260.70 L398.21 259.83 L399.25 258.95 L400.29 258.06 L401.34 257.16 L402.38 256.26 L403.43 255.35 L404.47 254.44 L405.51 253.52 L406.56 252.60 L407.60 251.68 L408.64 250.76 L409.69 249.84 L410.73 248.92 L411.77 248.00 L412.82 247.09 L413.86 246.18 L414.91 245.28 L415.95 244.39 L416.99 243.51 L418.04 242.64 L419.08 241.79 L420.12 240.96 L421.17 240.14 L422.21 239.34 L423.26 238.57 L424.30 237.82 L425.34 237.10 L426.39 236.41 L427.43 235.76 L428.48 235.14 L429.52 234.55 L430.56 234.01 L429.52 234.21 L428.48 234.44 L427.43 234.68 L426.39 234.95 L425.34 235.24 L424.30 235.56 L423.26 235.90 L422.21 236.27 L421.17 236.66 L420.12 237.07 L419.08 237.51 L418.04 237.97 L416.99 238.45 L415.95 238.96 L414.91 239.50 L413.86 240.05 L412.82 240.63 L411.77 241.24 L410.73 241.86 L409.69 242.51 L408.64 243.18 L407.60 243.88 L406.56 244.59 L405.51 245.33 L404.47 246.09 L403.43 246.87 L402.38 247.67 L401.34 248.49 L400.29 249.33 L399.25 250.18 L398.21 251.06 L397.16 251.95 L396.12 252.86 L395.07 253.79 L394.03 254.73 L392.99 255.69 L391.94 256.66 L390.90 257.64 L389.86 258.64 L388.81 259.65 L387.77 260.67 L386.73 261.69 L385.68 262.73 L384.64 263.78 L383.59 264.83 L382.55 265.89 L381.51 266.96 L380.46 268.03 L379.42 269.10 L378.38 270.18 L377.33 271.26 L376.29 272.33 L375.24 273.41 L374.20 274.48 L373.16 275.55 L372.11 276.61 L371.07 277.67 L370.02 278.72 L368.98 279.76 L367.94 280.79 L366.89 281.80 L365.85 282.81 L364.81 283.80 L363.76 284.77 L362.72 285.73 L361.68 286.67 L360.63 287.58 L359.59 288.48 L358.54 289.35 L357.50 290.19 L356.46 290.46 L355.41 291.53 L354.37 292.56 L353.32 293.56 L352.28 294.53 L351.24 295.47 L350.19 296.38 L349.15 297.27 L348.11 298.14 L347.06 298.99 L346.02 299.83 L344.98 300.64 L343.93 301.45 L342.89 302.25 L341.84 303.03 L340.80 303.81 L339.76 304.58 L338.71 305.35 L337.67 306.11 L336.62 306.88 L335.58 307.64 L334.54 308.40 L333.49 309.17 L332.45 309.93 L331.41 310.70 L330.36 311.48 L329.32 312.26 L328.27 313.05 L327.23 313.84 L326.19 314.64 L325.14 315.45 L324.10 316.27 L323.06 317.09 L322.01 317.93 L320.97 318.77 L319.93 319.62 L318.88 320.48 L317.84 321.35 L316.79 322.22 L315.75 323.10 L314.71 323.99 L313.66 324.89 L312.62 325.79 L311.57 326.70 L310.53 327.61 L309.49 328.53 L308.44 329.45 L307.40 330.37 L306.36 331.29 L305.31 332.21 L304.27 333.13 L303.23 334.05 L302.18 334.96 L301.14 335.87 L300.09 336.77 L299.05 337.66 L298.01 338.54 L296.96 339.41 L295.92 340.26 L294.88 341.09 L293.83 341.91 L292.79 342.71 L291.74 343.48 L290.70 344.23 L289.66 344.95 L288.61 345.64 L287.57 346.29 L286.52 346.91 L285.48 347.50 L284.44 348.04 L285.48 347.84 L286.52 347.61 L287.57 347.37 L288.61 347.10 L289.66 346.81 L290.70 346.49 L291.74 346.15 L292.79 345.78 L293.83 345.39 L294.88 344.98 L295.92 344.54 L296.96 344.08 L298.01 343.60 L299.05 343.09 L300.09 342.55 L301.14 342.00 L302.18 341.42 L303.23 340.81 L304.27 340.19 L305.31 339.54 L306.36 338.87 L307.40 338.17 L308.44 337.46 L309.49 336.72 L310.53 335.96 L311.57 335.18 L312.62 334.38 L313.66 333.56 L314.71 332.72 L315.75 331.87 L316.79 330.99 L317.84 330.10 L318.88 329.19 L319.93 328.26 L320.97 327.32 L322.01 326.36 L323.06 325.39 L324.10 324.41 L325.14 323.41 L326.19 322.40 L327.23 321.38 L328.27 320.36 L329.32 319.32 L330.36 318.27 L331.41 317.22 L332.45 316.16 L333.49 315.09 L334.54 314.02 L335.58 312.95 L336.62 311.87 L337.67 310.79 L338.71 309.72 L339.76 308.64 L340.80 307.57 L341.84 306.50 L342.89 305.44 L343.93 304.38 L344.98 303.33 L346.02 302.29 L347.06 301.26 L348.11 300.25 L349.15 299.24 L350.19 298.25 L351.24 297.28 L352.28 296.32 L353.32 295.38 L354.37 294.47 L355.41 293.57 L356.46 292.70 L357.50 291.86" fill="none" stroke="#000000" stroke-width="1.1" stroke-linejoin="round"/>
<path d="M357.50 292.70 L358.54 291.65 L359.59 290.63 L360.63 289.65 L361.68 288.70 L362.72 287.77 L363.76 286.88 L364.81 286.00 L365.85 285.15 L366.89 284.32 L367.94 283.51 L368.98 282.72 L370.02 281.94 L371.07 281.17 L372.11 280.41 L373.16 279.66 L374.20 278.92 L375.24 278.19 L376.29 277.46 L377.33 276.74 L378.38 276.02 L379.42 275.30 L380.46 274.58 L381.51 273.86 L382.55 273.14 L383.59 272.42 L384.64 271.69 L385.68 270.96 L386.73 270.23 L387.77 269.49 L388.81 268.74 L389.86 268.00 L390.90 267.24 L391.94 266.48 L392.99 265.71 L394.03 264.94 L395.07 264.16 L396.12 263.37 L397.16 262.58 L398.21 261.78 L399.25 260.98 L400.29 260.17 L401.34 259.36 L402.38 258.54 L403.43 257.72 L404.47 256.89 L405.51 256.07 L406.56 255.24 L407.60 254.41 L408.64 253.59 L409.69 252.76 L410.73 251.94 L411.77 251.12 L412.82 250.30 L413.86 249.50 L414.91 248.70 L415.95 247.91 L416.99 247.13 L418.04 246.36 L419.08 245.61 L420.12 244.87 L421.17 244.16 L422.21 243.46 L423.26 242.78 L424.30 242.13 L425.34 241.51 L426.39 240.91 L427.43 240.35 L428.48 239.82 L429.52 239.32 L430.56 238.86 L429.52 238.95 L428.48 239.07 L427.43 239.21 L426.39 239.38 L425.34 239.58 L424.30 239.80 L423.26 240.05 L422.21 240.33 L421.17 240.64 L420.12 240.97 L419.08 241.33 L418.04 241.71 L416.99 242.12 L415.95 242.56 L414.91 243.02 L413.86 243.51 L412.82 244.02 L411.77 244.55 L410.73 245.11 L409.69 245.69 L408.64 246.29 L407.60 246.92 L406.56 247.57 L405.51 248.24 L404.47 248.93 L403.43 249.64 L402.38 250.37 L401.34 251.12 L400.29 251.89 L399.25 252.68 L398.21 253.48 L397.16 254.30 L396.12 255.14 L395.07 256.00 L394.03 256.87 L392.99 257.75 L391.94 258.65 L390.90 259.56 L389.86 260.48 L388.81 261.42 L387.77 262.36 L386.73 263.31 L385.68 264.28 L384.64 265.25 L383.59 266.23 L382.55 267.21 L381.51 268.20 L380.46 269.20 L379.42 270.20 L378.38 271.20 L377.33 272.20 L376.29 273.21 L375.24 274.21 L374.20 275.21 L373.16 276.22 L372.11 277.21 L371.07 278.21 L370.02 279.19 L368.98 280.17 L367.94 281.15 L366.89 282.11 L365.85 283.06 L364.81 284.01 L363.76 284.94 L362.72 285.85 L361.68 286.76 L360.63 287.64 L359.59 288.51 L358.54 289.36 L357.50 290.19 L356.46 290.40 L355.41 291.42 L354.37 292.40 L353.32 293.35 L352.28 294.28 L351.24 295.17 L350.19 296.05 L349.15 296.90 L348.11 297.73 L347.06 298.54 L346.02 299.33 L344.98 300.11 L343.93 300.88 L342.89 301.64 L341.84 302.39 L340.80 303.13 L339.76 303.86 L338.71 304.59 L337.67 305.31 L336.62 306.03 L335.58 306.75 L334.54 307.47 L333.49 308.19 L332.45 308.91 L331.41 309.63 L330.36 310.36 L329.32 311.09 L328.27 311.82 L327.23 312.56 L326.19 313.31 L325.14 314.05 L324.10 314.81 L323.06 315.57 L322.01 316.34 L320.97 317.11 L319.93 317.89 L318.88 318.68 L317.84 319.47 L316.79 320.27 L315.75 321.07 L314.71 321.88 L313.66 322.69 L312.62 323.51 L311.57 324.33 L310.53 325.16 L309.49 325.98 L308.44 326.81 L307.40 327.64 L306.36 328.46 L305.31 329.29 L304.27 330.11 L303.23 330.93 L302.18 331.75 L301.14 332.55 L300.09 333.35 L299.05 334.14 L298.01 334.92 L296.96 335.69 L295.92 336.44 L294.88 337.18 L293.83 337.89 L292.79 338.59 L291.74 339.27 L290.70 339.92 L289.66 340.54 L288.61 341.14 L287.57 341.70 L286.52 342.23 L285.48 342.73 L284.44 343.19 L285.48 343.10 L286.52 342.98 L287.57 342.84 L288.61 342.67 L289.66 342.47 L290.70 342.25 L291.74 342.00 L292.79 341.72 L293.83 341.41 L294.88 341.08 L295.92 340.72 L296.96 340.34 L298.01 339.93 L299.05 339.49 L300.09 339.03 L301.14 338.54 L302.18 338.03 L303.23 337.50 L304.27 336.94 L305.31 336.36 L306.36 335.76 L307.40 335.13 L308.44 334.48 L309.49 333.81 L310.53 333.12 L311.57 332.41 L312.62 331.68 L313.66 330.93 L314.71 330.16 L315.75 329.37 L316.79 328.57 L317.84 327.75 L318.88 326.91 L319.93 326.05 L320.97 325.18 L322.01 324.30 L323.06 323.40 L324.10 322.49 L325.14 321.57 L326.19 320.63 L327.23 319.69 L328.27 318.74 L329.32 317.77 L330.36 316.80 L331.41 315.82 L332.45 314.84 L333.49 313.85 L334.54 312.85 L335.58 311.85 L336.62 310.85 L337.67 309.85 L338.71 308.84 L339.76 307.84 L340.80 306.84 L341.84 305.83 L342.89 304.84 L343.93 303.84 L344.98 302.86 L346.02 301.88 L347.06 300.90 L348.11 299.94 L349.15 298.99 L350.19 298.04 L351.24 297.11 L352.28 296.20 L353.32 295.29 L354.37 294.41 L355.41 293.54 L356.46 292.69 L357.50 291.86" fill="none" stroke="#0000ff" stroke-width="1.1" stroke-linejoin="round"/>
<path d="M357.50 292.70 L358.54 291.79 L359.59 290.90 L360.63 290.03 L361.68 289.18 L362.72 288.34 L363.76 287.52 L364.81 286.72 L365.85 285.93 L366.89 285.15 L367.94 284.38 L368.98 283.62 L370.02 282.87 L371.07 282.12 L372.11 281.39 L373.16 280.66 L374.20 279.93 L375.24 279.21 L376.29 278.50 L377.33 277.78 L378.38 277.07 L379.42 276.36 L380.46 275.65 L381.51 274.95 L382.55 274.24 L383.59 273.53 L384.64 272.82 L385.68 272.12 L386.73 271.41 L387.77 270.69 L388.81 269.98 L389.86 269.27 L390.90 268.55 L391.94 267.83 L392.99 267.11 L394.03 266.38 L395.07 265.66 L396.12 264.93 L397.16 264.20 L398.21 263.46 L399.25 262.73 L400.29 261.99 L401.34 261.26 L402.38 260.52 L403.43 259.78 L404.47 259.04 L405.51 258.30 L406.56 257.56 L407.60 256.83 L408.64 256.09 L409.69 255.36 L410.73 254.63 L411.77 253.90 L412.82 253.18 L413.86 252.47 L414.91 251.76 L415.95 251.06 L416.99 250.36 L418.04 249.67 L419.08 249.00 L420.12 248.33 L421.17 247.68 L422.21 247.04 L423.26 246.42 L424.30 245.81 L425.34 245.21 L426.39 244.64 L427.43 244.08 L428.48 243.54 L429.52 243.03 L430.56 242.54 L429.52 242.57 L428.48 242.63 L427.43 242.72 L426.39 242.83 L425.34 242.97 L424.30 243.14 L423.26 243.33 L422.21 243.55 L421.17 243.79 L420.12 244.06 L419.08 244.36 L418.04 244.68 L416.99 245.02 L415.95 245.40 L414.91 245.80 L413.86 246.22 L412.82 246.67 L411.77 247.14 L410.73 247.64 L409.69 248.16 L408.64 248.70 L407.60 249.27 L406.56 249.86 L405.51 250.47 L404.47 251.11 L403.43 251.76 L402.38 252.44 L401.34 253.13 L400.29 253.85 L399.25 254.58 L398.21 255.34 L397.16 256.11 L396.12 256.90 L395.07 257.70 L394.03 258.53 L392.99 259.36 L391.94 260.21 L390.90 261.08 L389.86 261.96 L388.81 262.85 L387.77 263.75 L386.73 264.66 L385.68 265.58 L384.64 266.51 L383.59 267.45 L382.55 268.39 L381.51 269.34 L380.46 270.30 L379.42 271.26 L378.38 272.22 L377.33 273.18 L376.29 274.14 L375.24 275.11 L374.20 276.07 L373.16 277.03 L372.11 277.98 L371.07 278.93 L370.02 279.87 L368.98 280.81 L367.94 281.73 L366.89 282.65 L365.85 283.55 L364.81 284.44 L363.76 285.32 L362.72 286.18 L361.68 287.02 L360.63 287.84 L359.59 288.65 L358.54 289.43 L357.50 290.19 L356.46 290.26 L355.41 291.15 L354.37 292.02 L353.32 292.87 L352.28 293.71 L351.24 294.53 L350.19 295.33 L349.15 296.12 L348.11 296.90 L347.06 297.67 L346.02 298.43 L344.98 299.18 L343.93 299.93 L342.89 300.66 L341.84 301.39 L340.80 302.12 L339.76 302.84 L338.71 303.55 L337.67 304.27 L336.62 304.98 L335.58 305.69 L334.54 306.40 L333.49 307.10 L332.45 307.81 L331.41 308.52 L330.36 309.23 L329.32 309.93 L328.27 310.64 L327.23 311.36 L326.19 312.07 L325.14 312.78 L324.10 313.50 L323.06 314.22 L322.01 314.94 L320.97 315.67 L319.93 316.39 L318.88 317.12 L317.84 317.85 L316.79 318.59 L315.75 319.32 L314.71 320.06 L313.66 320.79 L312.62 321.53 L311.57 322.27 L310.53 323.01 L309.49 323.75 L308.44 324.49 L307.40 325.22 L306.36 325.96 L305.31 326.69 L304.27 327.42 L303.23 328.15 L302.18 328.87 L301.14 329.58 L300.09 330.29 L299.05 330.99 L298.01 331.69 L296.96 332.38 L295.92 333.05 L294.88 333.72 L293.83 334.37 L292.79 335.01 L291.74 335.63 L290.70 336.24 L289.66 336.84 L288.61 337.41 L287.57 337.97 L286.52 338.51 L285.48 339.02 L284.44 339.51 L285.48 339.48 L286.52 339.42 L287.57 339.33 L288.61 339.22 L289.66 339.08 L290.70 338.91 L291.74 338.72 L292.79 338.50 L293.83 338.26 L294.88 337.99 L295.92 337.69 L296.96 337.37 L298.01 337.03 L299.05 336.65 L300.09 336.25 L301.14 335.83 L302.18 335.38 L303.23 334.91 L304.27 334.41 L305.31 333.89 L306.36 333.35 L307.40 332.78 L308.44 332.19 L309.49 331.58 L310.53 330.94 L311.57 330.29 L312.62 329.61 L313.66 328.92 L314.71 328.20 L315.75 327.47 L316.79 326.71 L317.84 325.94 L318.88 325.15 L319.93 324.35 L320.97 323.52 L322.01 322.69 L323.06 321.84 L324.10 320.97 L325.14 320.09 L326.19 319.20 L327.23 318.30 L328.27 317.39 L329.32 316.47 L330.36 315.54 L331.41 314.60 L332.45 313.66 L333.49 312.71 L334.54 311.75 L335.58 310.79 L336.62 309.83 L337.67 308.87 L338.71 307.91 L339.76 306.94 L340.80 305.98 L341.84 305.02 L342.89 304.07 L343.93 303.12 L344.98 302.18 L346.02 301.24 L347.06 300.32 L348.11 299.40 L349.15 298.50 L350.19 297.61 L351.24 296.73 L352.28 295.87 L353.32 295.03 L354.37 294.21 L355.41 293.40 L356.46 292.62 L357.50 291.86" fill="none" stroke="#ff0000" stroke-width="1.1" stroke-linejoin="round"/>
<path d="M357.50 292.70 L358.54 291.91 L359.59 291.13 L360.63 290.36 L361.68 289.59 L362.72 288.83 L363.76 288.09 L364.81 287.34 L365.85 286.60 L366.89 285.87 L367.94 285.14 L368.98 284.42 L370.02 283.70 L371.07 282.99 L372.11 282.28 L373.16 281.57 L374.20 280.86 L375.24 280.15 L376.29 279.45 L377.33 278.75 L378.38 278.05 L379.42 277.35 L380.46 276.65 L381.51 275.95 L382.55 275.25 L383.59 274.56 L384.64 273.86 L385.68 273.16 L386.73 272.46 L387.77 271.76 L388.81 271.06 L389.86 270.35 L390.90 269.65 L391.94 268.95 L392.99 268.24 L394.03 267.53 L395.07 266.82 L396.12 266.12 L397.16 265.40 L398.21 264.69 L399.25 263.98 L400.29 263.27 L401.34 262.55 L402.38 261.84 L403.43 261.12 L404.47 260.40 L405.51 259.69 L406.56 258.97 L407.60 258.25 L408.64 257.53 L409.69 256.82 L410.73 256.10 L411.77 255.38 L412.82 254.67 L413.86 253.95 L414.91 253.24 L415.95 252.53 L416.99 251.83 L418.04 251.12 L419.08 250.42 L420.12 249.72 L421.17 249.03 L422.21 248.34 L423.26 247.66 L424.30 246.98 L425.34 246.30 L426.39 245.64 L427.43 244.98 L428.48 244.32 L429.52 243.68 L430.56 243.04 L429.52 243.05 L428.48 243.09 L427.43 243.15 L426.39 243.24 L425.34 243.36 L424.30 243.51 L423.26 243.69 L422.21 243.89 L421.17 244.12 L420.12 244.38 L419.08 244.66 L418.04 244.97 L416.99 245.31 L415.95 245.68 L414.91 246.07 L413.86 246.48 L412.82 246.92 L411.77 247.39 L410.73 247.88 L409.69 248.40 L408.64 248.94 L407.60 249.50 L406.56 250.08 L405.51 250.69 L404.47 251.32 L403.43 251.97 L402.38 252.64 L401.34 253.34 L400.29 254.05 L399.25 254.78 L398.21 255.53 L397.16 256.30 L396.12 257.08 L395.07 257.88 L394.03 258.70 L392.99 259.53 L391.94 260.38 L390.90 261.24 L389.86 262.11 L388.81 262.99 L387.77 263.89 L386.73 264.80 L385.68 265.71 L384.64 266.63 L383.59 267.57 L382.55 268.50 L381.51 269.45 L380.46 270.40 L379.42 271.35 L378.38 272.30 L377.33 273.26 L376.29 274.22 L375.24 275.17 L374.20 276.13 L373.16 277.08 L372.11 278.03 L371.07 278.97 L370.02 279.90 L368.98 280.83 L367.94 281.75 L366.89 282.66 L365.85 283.56 L364.81 284.45 L363.76 285.32 L362.72 286.18 L361.68 287.02 L360.63 287.84 L359.59 288.65 L358.54 289.43 L357.50 290.19 L356.46 290.14 L355.41 290.92 L354.37 291.69 L353.32 292.46 L352.28 293.22 L351.24 293.96 L350.19 294.71 L349.15 295.45 L348.11 296.18 L347.06 296.91 L346.02 297.63 L344.98 298.35 L343.93 299.06 L342.89 299.77 L341.84 300.48 L340.80 301.19 L339.76 301.90 L338.71 302.60 L337.67 303.30 L336.62 304.00 L335.58 304.70 L334.54 305.40 L333.49 306.10 L332.45 306.80 L331.41 307.49 L330.36 308.19 L329.32 308.89 L328.27 309.59 L327.23 310.29 L326.19 310.99 L325.14 311.70 L324.10 312.40 L323.06 313.10 L322.01 313.81 L320.97 314.52 L319.93 315.23 L318.88 315.93 L317.84 316.65 L316.79 317.36 L315.75 318.07 L314.71 318.78 L313.66 319.50 L312.62 320.21 L311.57 320.93 L310.53 321.65 L309.49 322.36 L308.44 323.08 L307.40 323.80 L306.36 324.52 L305.31 325.23 L304.27 325.95 L303.23 326.67 L302.18 327.38 L301.14 328.10 L300.09 328.81 L299.05 329.52 L298.01 330.22 L296.96 330.93 L295.92 331.63 L294.88 332.33 L293.83 333.02 L292.79 333.71 L291.74 334.39 L290.70 335.07 L289.66 335.75 L288.61 336.41 L287.57 337.07 L286.52 337.73 L285.48 338.37 L284.44 339.01 L285.48 339.00 L286.52 338.96 L287.57 338.90 L288.61 338.81 L289.66 338.69 L290.70 338.54 L291.74 338.36 L292.79 338.16 L293.83 337.93 L294.88 337.67 L295.92 337.39 L296.96 337.08 L298.01 336.74 L299.05 336.37 L300.09 335.98 L301.14 335.57 L302.18 335.13 L303.23 334.66 L304.27 334.17 L305.31 333.65 L306.36 333.11 L307.40 332.55 L308.44 331.97 L309.49 331.36 L310.53 330.73 L311.57 330.08 L312.62 329.41 L313.66 328.71 L314.71 328.00 L315.75 327.27 L316.79 326.52 L317.84 325.75 L318.88 324.97 L319.93 324.17 L320.97 323.35 L322.01 322.52 L323.06 321.67 L324.10 320.81 L325.14 319.94 L326.19 319.06 L327.23 318.16 L328.27 317.25 L329.32 316.34 L330.36 315.42 L331.41 314.48 L332.45 313.55 L333.49 312.60 L334.54 311.65 L335.58 310.70 L336.62 309.75 L337.67 308.79 L338.71 307.83 L339.76 306.88 L340.80 305.92 L341.84 304.97 L342.89 304.02 L343.93 303.08 L344.98 302.15 L346.02 301.22 L347.06 300.30 L348.11 299.39 L349.15 298.49 L350.19 297.60 L351.24 296.73 L352.28 295.87 L353.32 295.03 L354.37 294.21 L355.41 293.40 L356.46 292.62 L357.50 291.86" fill="none" stroke="#6a00b8" stroke-width="1.1" stroke-linejoin="round"/>
<rect x="274" y="224.15" width="167" height="133.75" fill="none" stroke="#262626" stroke-width="1.25"/>
<path d="M274 357.9v-2.8 M315.75 357.9v-2.8 M357.5 357.9v-2.8 M399.25 357.9v-2.8 M441 357.9v-2.8 M294.88 357.9v-1.4 M336.62 357.9v-1.4 M378.38 357.9v-1.4 M420.12 357.9v-1.4 M274 357.9h2.8 M274 324.46h2.8 M274 291.02h2.8 M274 257.59h2.8 M274 224.15h2.8 M274 341.18h1.4 M274 307.74h1.4 M274 274.31h1.4 M274 240.87h1.4" stroke="#262626" stroke-width="0.9" fill="none"/>
<text x="274" y="368.9" text-anchor="middle" font-size="9.7">−80</text>
<text x="315.75" y="368.9" text-anchor="middle" font-size="9.7">−40</text>
<text x="357.5" y="368.9" text-anchor="middle" font-size="9.7">0</text>
<text x="399.25" y="368.9" text-anchor="middle" font-size="9.7">40</text>
<text x="441" y="368.9" text-anchor="middle" font-size="9.7">80</text>
<text x="270.1" y="361.25" text-anchor="end" font-size="9.7">−4</text>
<text x="270.1" y="327.81" text-anchor="end" font-size="9.7">−2</text>
<text x="270.1" y="294.38" text-anchor="end" font-size="9.7">0</text>
<text x="270.1" y="260.94" text-anchor="end" font-size="9.7">2</text>
<text x="270.1" y="227.5" text-anchor="end" font-size="9.7">4</text>
<text x="357.5" y="385.9" text-anchor="middle" font-size="9.7"><tspan font-style="italic">E</tspan> (MV m<tspan font-size="6.2" dy="-3.6">-1</tspan><tspan dy="3.6">)</tspan></text>
<text x="307.9" y="213.7" font-size="9.7">After subtracting <tspan font-style="italic">C</tspan><tspan font-size="6.6" dy="2.2">para</tspan></text>
<text x="238.4" y="213.8" font-size="9.6" font-weight="bold">e</text>
<rect x="277.3" y="224.65" width="102.7" height="41.15" fill="#fff"/>
<path d="M282.6 230.7H292.6" stroke="#000000" stroke-width="1.0"/>
<text x="298.6" y="233.45" font-size="7.9"><tspan font-style="italic">d</tspan> = 3 mm, <tspan font-style="italic">t</tspan> = 0.11 mm</text>
<path d="M282.6 240.6H292.6" stroke="#0000ff" stroke-width="1.0"/>
<text x="298.6" y="243.35" font-size="7.9"><tspan font-style="italic">d</tspan> = 4 mm, <tspan font-style="italic">t</tspan> = 0.11 mm</text>
<path d="M282.6 250.4H292.6" stroke="#ff0000" stroke-width="1.0"/>
<text x="298.6" y="253.15" font-size="7.9"><tspan font-style="italic">d</tspan> = 6 mm, <tspan font-style="italic">t</tspan> = 0.11 mm</text>
<path d="M282.6 260.2H292.6" stroke="#6a00b8" stroke-width="1.0"/>
<text x="298.6" y="262.95" font-size="7.9"><tspan font-style="italic">d</tspan> = 8 mm, <tspan font-style="italic">t</tspan> = 0.11 mm</text>
<text x="362.2" y="337" font-size="8.6">P(VDF-TrFE-CTFE)</text>
<text x="362.2" y="346.7" font-size="8.6">in silicone oil</text>
<text transform="translate(17.1 291.1) rotate(-90)" text-anchor="middle" font-size="9.8"><tspan font-style="italic">D</tspan> (μC cm<tspan font-size="6.2" dy="-3.6">-2</tspan><tspan dy="3.6">)</tspan></text>
<text transform="translate(255.9 291.1) rotate(-90)" text-anchor="middle" font-size="9.8"><tspan font-style="italic">D</tspan> (μC cm<tspan font-size="6.2" dy="-3.6">-2</tspan><tspan dy="3.6">)</tspan></text>
</svg></body></html>
